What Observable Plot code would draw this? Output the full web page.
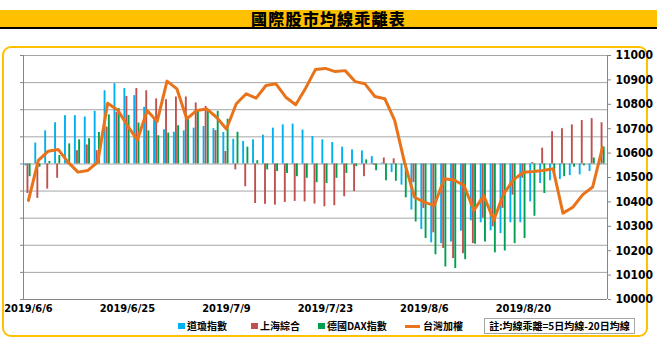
<!DOCTYPE html>
<html><head><meta charset="utf-8">
<script src="https://cdn.jsdelivr.net/npm/d3@7"></script>
<script src="https://cdn.jsdelivr.net/npm/@observablehq/plot@0.6"></script>
<style>
html,body{margin:0;padding:0;background:#fff;}
#wrap{position:relative;width:657px;height:346px;overflow:hidden;font-family:"Noto Sans CJK TC","Noto Sans CJK SC",sans-serif;}
#title{position:absolute;left:0;top:10px;width:657px;height:17px;background:#ffc000;border-bottom:2px solid #000;text-align:center;font-size:16px;line-height:17px;font-weight:900;letter-spacing:1.2px;color:#000;}
#box{position:absolute;left:2px;top:46px;width:642px;height:287px;border:2px solid #ffc000;border-radius:9px;}
#chart{position:absolute;left:0;top:46px;}
.lg{position:absolute;top:319px;font-size:10px;font-weight:bold;line-height:14px;color:#000;white-space:nowrap;}
.sw{position:absolute;top:323px;width:7px;height:6px;}
#note{position:absolute;left:484px;top:318px;width:149px;height:14px;border:1px solid #a6a6a6;font-size:10px;font-weight:bold;line-height:14px;text-align:center;white-space:nowrap;}
</style></head>
<body>
<div id="wrap">
<div id="box"></div>
<div id="title">國際股市均線乖離表</div>
<div id="chart"></div>
<div class="sw" style="left:178px;background:#00b0f0"></div><div class="lg" style="left:187px">道瓊指數</div>
<div class="sw" style="left:251px;background:#c0504d"></div><div class="lg" style="left:260px">上海綜合</div>
<div class="sw" style="left:318px;background:#00a050"></div><div class="lg" style="left:327px">德國DAX指數</div>
<div class="sw" style="left:405px;top:325px;width:15px;height:3px;background:#e8731a"></div><div class="lg" style="left:423px">台灣加權</div>
<div id="note">註:均線乖離=5日均線-20日均線</div>
</div>
<script>
const dates = [
"2019/6/6","2019/6/10","2019/6/11","2019/6/12","2019/6/13","2019/6/14","2019/6/17","2019/6/18","2019/6/19","2019/6/21",
"2019/6/25","2019/6/26","2019/6/27","2019/6/28","2019/7/1","2019/7/2","2019/7/3","2019/7/4","2019/7/5","2019/7/8",
"2019/7/9","2019/7/10","2019/7/11","2019/7/12","2019/7/15","2019/7/16","2019/7/17","2019/7/18","2019/7/19","2019/7/22",
"2019/7/23","2019/7/24","2019/7/25","2019/7/26","2019/7/29","2019/7/30","2019/7/31","2019/8/1","2019/8/2","2019/8/5",
"2019/8/6","2019/8/7","2019/8/8","2019/8/9","2019/8/12","2019/8/13","2019/8/14","2019/8/15","2019/8/16","2019/8/19",
"2019/8/20","2019/8/21","2019/8/22","2019/8/23","2019/8/26","2019/8/27","2019/8/28","2019/8/29","2019/8/30"];
const labelIdx = [0,10,20,30,40,50];
// bar values in units of the (hidden) left-axis gridline step
const dow = [-0.07,0.77,1.22,1.52,1.78,1.78,1.73,1.94,2.70,2.96,
2.78,2.52,2.09,1.63,1.26,1.17,1.22,1.32,1.38,1.30,
1.16,0.91,0.83,0.89,1.06,1.32,1.44,1.47,1.25,1.01,
0.89,0.79,0.62,0.52,0.48,0.27,0.03,-0.32,-0.78,-1.70,
-2.42,-2.91,-2.94,-2.88,-2.48,-2.10,-2.17,-2.47,-2.57,-2.17,
-2.17,-1.40,-0.72,-0.62,-0.57,-0.43,-0.40,-0.28,-0.05];
const sse = [-1.09,-1.27,-0.93,-0.53,0.04,0.49,0.70,0.49,1.36,1.90,
2.49,2.78,2.70,2.40,2.37,2.47,2.47,2.25,2.12,1.23,
0.46,-0.22,-0.84,-1.46,-1.49,-1.52,-1.42,-1.38,-1.40,-1.48,
-1.58,-1.54,-1.21,-1.02,-0.47,-0.05,0.22,0.19,0.02,-0.69,
-1.64,-2.54,-3.12,-3.49,-3.31,-2.94,-2.00,-2.32,-1.64,-1.15,
-0.53,0.05,0.58,1.19,1.30,1.44,1.60,1.67,1.52];
const dax = [-0.47,-0.12,0.09,0.31,0.74,0.89,0.93,1.16,1.81,2.04,
1.79,1.51,1.22,1.04,1.14,1.41,1.69,2.00,2.00,1.94,
1.65,1.17,0.62,0.12,-0.22,-0.28,-0.35,-0.47,-0.53,-0.69,
-0.72,-0.53,-0.35,-0.10,0.15,-0.25,-0.62,-0.64,-1.25,-2.14,
-2.75,-3.35,-3.80,-3.86,-3.53,-2.96,-2.88,-3.28,-3.21,-2.94,
-2.75,-1.93,-1.09,-0.35,-0.47,-0.12,-0.07,0.22,0.62];
const twii = [10406,10570,10608,10615,10563,10522,10529,10563,10804,10777,
10713,10654,10775,10729,10895,10863,10740,10775,10781,10747,
10699,10802,10843,10825,10877,10884,10829,10798,10866,10943,
10947,10934,10938,10893,10884,10832,10823,10734,10561,10419,
10399,10385,10495,10490,10467,10365,10426,10324,10433,10490,
10522,10525,10529,10536,10354,10378,10430,10461,10624];
const rightTicks = [10000,10100,10200,10300,10400,10500,10600,10700,10800,10900,11000];

const series = [
  {name:"道瓊指數", values:dow, color:"#00b0f0", off:-0.26},
  {name:"上海綜合", values:sse, color:"#c0504d", off:-0.05},
  {name:"德國DAX指數", values:dax, color:"#00a050", off:0.17}
];
const step = 1000/9;           // one hidden-axis unit in right-axis terms
const base = 10000 + 5*step;   // zero of the hidden axis
const gridVals = d3.range(-5,5).map(k => base + k*step).concat([11000]);
const bw = 0.19;
const bars = series.flatMap(s => s.values.map((v,i) => ({i, v, s:s.name, color:s.color, off:s.off})));
const line = twii.map((v,i) => ({i, v}));

const chart = Plot.plot({
  width: 657, height: 272,
  marginTop: 9, marginBottom: 19, marginLeft: 23, marginRight: 50,
  x: {type:"linear", domain:[-0.5, dates.length-0.5], axis:null},
  y: {domain:[10000, 11000], axis:null},
  style: {background:"transparent", overflow:"visible", fontFamily:"'Liberation Sans Narrow','DejaVu Sans Condensed',sans-serif"},
  marks: [
    Plot.ruleY(gridVals, {stroke:"#a6a6a6", strokeWidth:1}),
    Plot.ruleY([base], {stroke:"#cfcfcf", strokeWidth:1.5}),
    Plot.rect(bars, {x1:d => d.i + d.off - bw/2, x2:d => d.i + d.off + bw/2, y1:() => base, y2:d => base + d.v*step, fill:d => d.color}),
    Plot.line(line, {x:"i", y:"v", stroke:"#e8731a", strokeWidth:3, strokeLinejoin:"round", strokeLinecap:"round"}),
    Plot.ruleX([-0.5], {stroke:"#868686"}),
    Plot.ruleX([dates.length-0.5], {stroke:"#868686"}),
    Plot.ruleY([10000], {stroke:"#868686"}),
    Plot.axisX({ticks:labelIdx, tickFormat:i => dates[i], tickSize:0, tickPadding:5, fontSize:11, fontWeight:"bold", label:null, fill:"#000"}),
    Plot.axisY({anchor:"right", ticks:rightTicks, tickFormat:d => String(d), tickSize:3, tickPadding:5, fontSize:12, fontWeight:"bold", label:null, stroke:"#868686", fill:"#000"}),
    Plot.axisY({anchor:"left", ticks:gridVals, tickFormat:() => "", tickSize:3, label:null, stroke:"#868686"})
  ]
});
document.getElementById("chart").appendChild(chart);
</script>
</body></html>
